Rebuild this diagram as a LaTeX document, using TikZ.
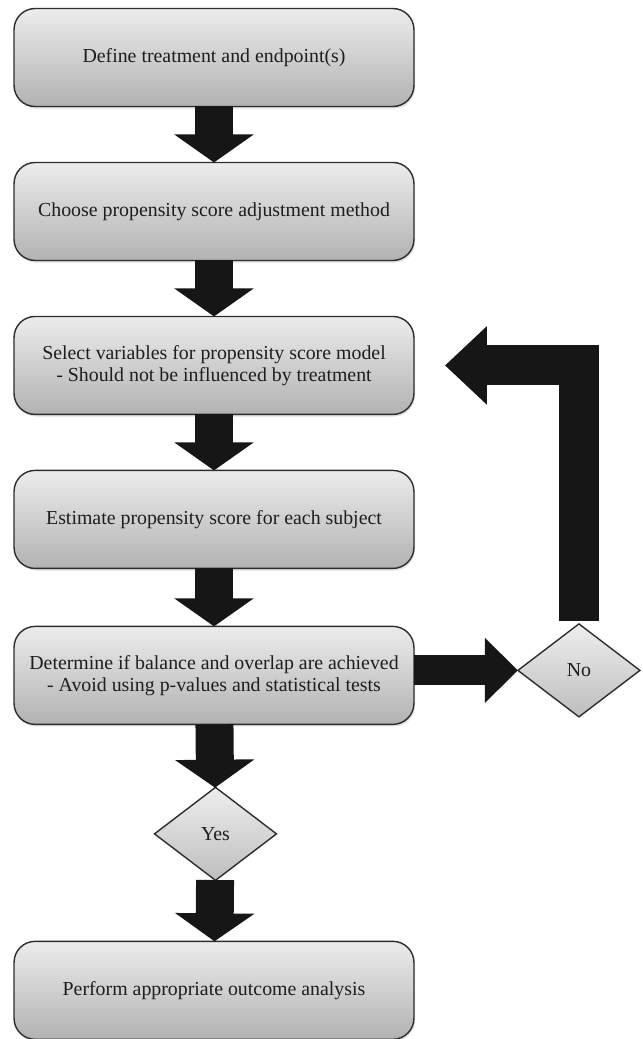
\documentclass[tikz,border=0pt]{standalone}
\usepackage{fontspec}
\setmainfont{Liberation Serif}
\usepackage{tikz}
\usetikzlibrary{positioning, shapes.geometric, arrows.meta, shadows}
\definecolor{boxtop}{RGB}{236,236,236}
\definecolor{boxbot}{RGB}{178,178,178}
\definecolor{boxline}{RGB}{45,45,45}
\definecolor{arrowblack}{RGB}{22,22,22}
\definecolor{textdark}{RGB}{30,30,30}

\begin{document}
\begin{tikzpicture}[x=0.02cm, y=-0.02cm,
  stepbox/.style={rectangle, rounded corners=12pt, draw=boxline, line width=0.8pt,
              top color=boxtop, bottom color=boxbot,
              minimum width=8cm, minimum height=1.96cm, outer sep=0pt,
              align=center, font=\fontsize{11.3}{12.6}\selectfont, text=textdark,
              drop shadow={shadow xshift=0.6pt, shadow yshift=-1.2pt, opacity=0.25}},
  choice/.style={diamond, draw=boxline, line width=0.8pt,
              top color=boxtop!90!white, bottom color=boxbot!85!white,
              minimum width=2.44cm, minimum height=1.86cm, inner sep=0pt,
              outer sep=0pt, font=\fontsize{11.3}{12.6}\selectfont, text=textdark},
  fat/.style={draw=arrowblack, line width=0.76cm,
              -{Triangle[length=0.56cm, width=1.56cm]}},
  fatside/.style={draw=arrowblack, line width=0.6cm,
              -{Triangle[length=0.66cm, width=1.26cm]}},
  fatloop/.style={draw=arrowblack, line width=0.8cm, miter limit=10,
              -{Triangle[length=0.84cm, width=1.52cm]}}
]
  \useasboundingbox (0,0) rectangle (643,1039);

  \node[stepbox] (def) at (214,57.5) {Define treatment and endpoint(s)};
  \node[stepbox, below=1.12cm of def] (meth) {Choose propensity score adjustment method};
  \node[stepbox, below=1.12cm of meth] (vars) {Select variables for propensity score model\\- Should not be influenced by treatment};
  \node[stepbox, below=1.12cm of vars] (est) {Estimate propensity score for each subject};
  \node[stepbox, below=1.16cm of est] (bal) {Determine if balance and overlap are achieved\\- Avoid using p-values and statistical tests};
  \node[choice, below=1.26cm of bal, xshift=0.03cm] (yes) {Yes};
  \node[stepbox, below=1.22cm of yes, xshift=-0.03cm] (outc) {Perform appropriate outcome analysis};

  \node[choice, right=2.08cm of bal, yshift=0.1cm] (no) {No};
  \coordinate[right=0.62cm of vars] (back);

  \draw[fat] (def) -- (meth);
  \draw[fat] (meth) -- (vars);
  \draw[fat] (vars) -- (est);
  \draw[fat] (est) -- (bal);
  \draw[fat] (bal) -- (yes);
  \draw[fat] (yes) -- (outc);

  \draw[fatside] (bal.east |- no.west) -- (no.west);
  \draw[fatloop] ([yshift=0.06cm]no.north) |- (back);
\end{tikzpicture}
\end{document}
